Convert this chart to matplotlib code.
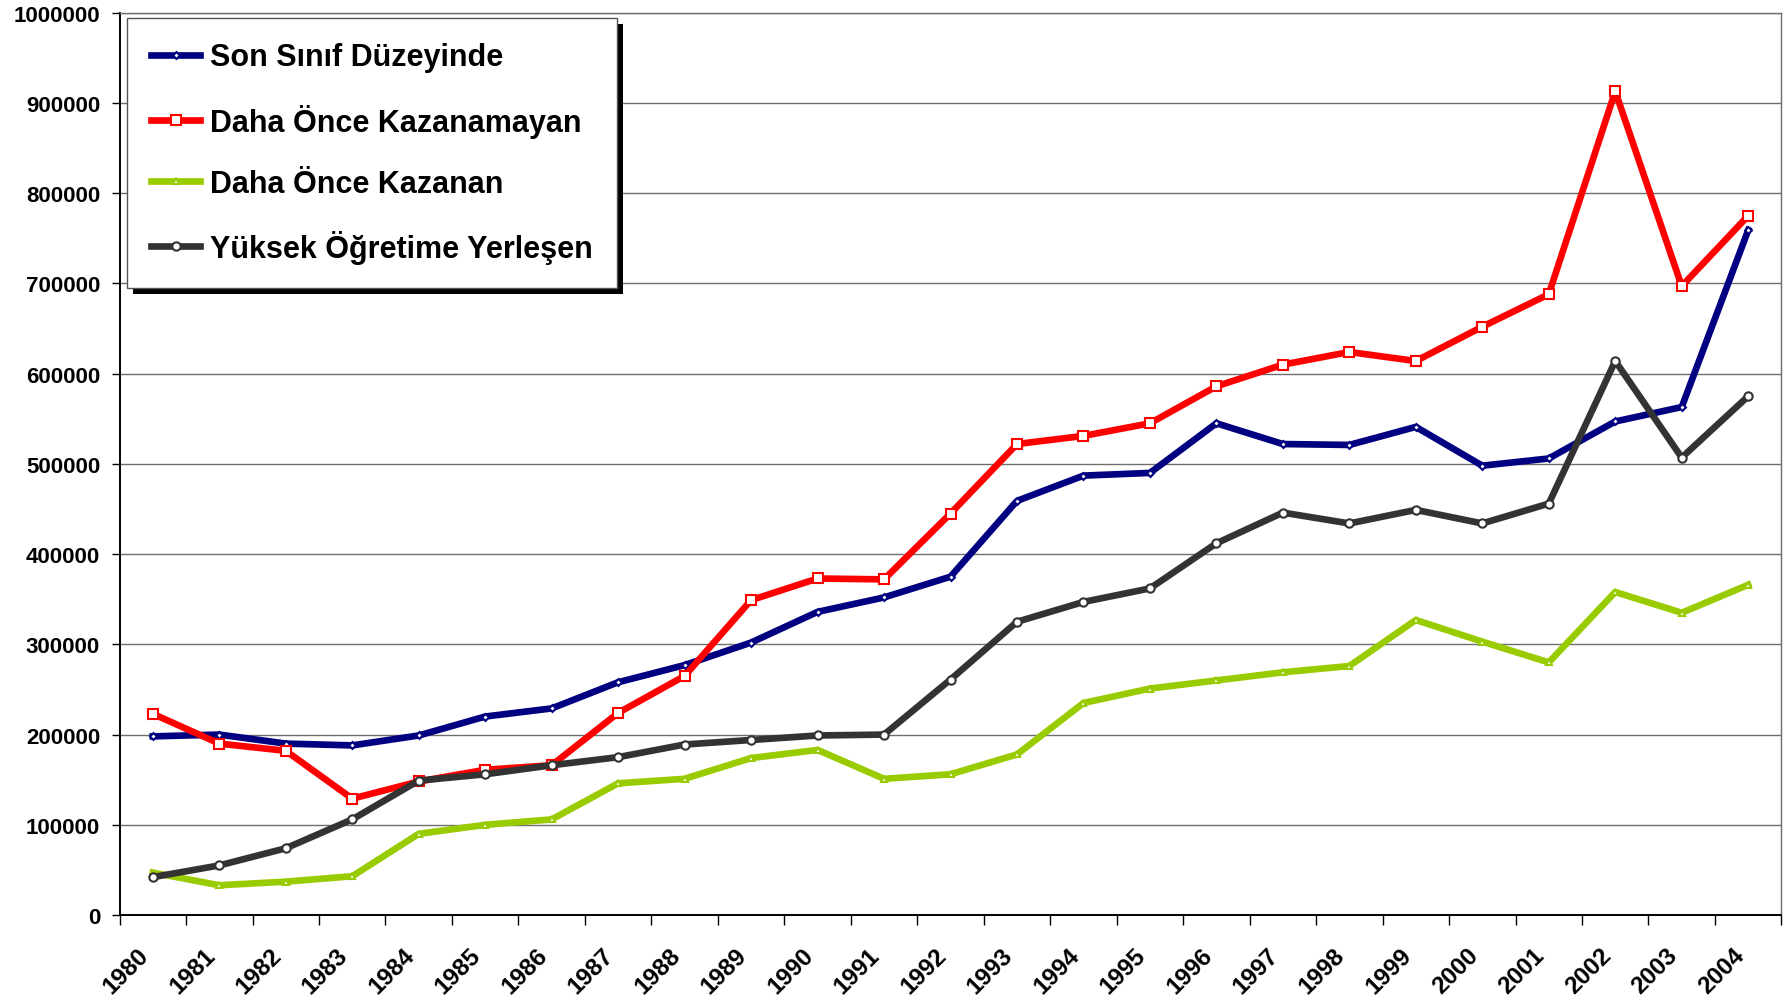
import numpy as np
import matplotlib
matplotlib.use('Agg')
import matplotlib.pyplot as plt
import matplotlib.transforms as mtransforms
from matplotlib.patches import Rectangle

plt.rcParams['font.family'] = ['Liberation Sans', 'DejaVu Sans']
plt.rcParams['font.weight'] = 'bold'

years = [str(y) for y in range(1980, 2005)]

son_sinif = [198000, 200000, 190000, 188000, 199000, 220000, 229000, 258000, 277000, 302000,
             336000, 352000, 375000, 459000, 487000, 490000, 545000, 522000, 521000, 541000,
             498000, 506000, 547000, 563000, 759000]
kazanamayan = [223000, 190000, 182000, 129000, 148000, 161000, 166000, 224000, 265000, 349000,
               373000, 372000, 445000, 522000, 531000, 545000, 586000, 610000, 624000, 614000,
               652000, 688000, 913000, 697000, 775000]
kazanan = [47000, 33000, 37000, 43000, 90000, 100000, 106000, 146000, 151000, 174000,
           183000, 151000, 156000, 178000, 235000, 251000, 260000, 269000, 276000, 327000,
           303000, 280000, 358000, 335000, 366000]
yerlesen = [42000, 55000, 74000, 106000, 149000, 156000, 166000, 175000, 189000, 194000,
            199000, 200000, 261000, 325000, 347000, 362000, 412000, 446000, 434000, 449000,
            434000, 456000, 614000, 507000, 575000]

series = [
    ('Son Sınıf Düzeyinde', son_sinif, '#000080', 'D', 3.5),
    ('Daha Önce Kazanamayan', kazanamayan, '#FF0000', 's', 6.5),
    ('Daha Önce Kazanan', kazanan, '#99CC00', '^', 4.0),
    ('Yüksek Öğretime Yerleşen', yerlesen, '#333333', 'o', 6.0),
]

fig = plt.figure(figsize=(17.85, 10.03), dpi=100)
ax = fig.add_axes([0.067, 0.0867, 0.931, 0.8996])

x = np.arange(len(years))
for name, vals, col, mk, ms in series:
    ax.plot(x, vals, color=col, lw=4.8, marker=mk, markersize=ms,
            markerfacecolor='white', markeredgecolor=col, markeredgewidth=1.5,
            label=name, zorder=3)

ax.set_ylim(0, 1000000)
ax.set_xlim(-0.5, len(years) - 0.5)
ax.set_yticks(np.arange(0, 1000001, 100000))
ax.set_yticklabels([str(v) for v in range(0, 1000001, 100000)], fontsize=16, fontweight='bold')
ax.yaxis.grid(True, color='#6e6e6e', lw=1.0)
ax.set_axisbelow(True)
ax.tick_params(axis='y', length=6, width=1, direction='out', pad=8)

# labels at category centres, ticks at category boundaries
ax.set_xticks(x)
ax.set_xticklabels(years, rotation=45, ha='right', va='top', rotation_mode='anchor',
                   fontsize=17.5, fontweight='bold')
ax.tick_params(axis='x', which='major', length=0, pad=20)
shift = mtransforms.ScaledTranslation(-16 / 100, 0, fig.dpi_scale_trans)
for lab in ax.get_xticklabels():
    lab.set_transform(lab.get_transform() + shift)
ax.set_xticks(np.arange(-0.5, len(years), 1.0), minor=True)
ax.tick_params(axis='x', which='minor', length=7, width=1, direction='out')

for s in ['left', 'bottom']:
    ax.spines[s].set_color('black')
    ax.spines[s].set_linewidth(1.4)
for s in ['right', 'top']:
    ax.spines[s].set_color('#6e6e6e')
    ax.spines[s].set_linewidth(1.0)

leg = ax.legend(loc='upper left', bbox_to_anchor=(127 / 1785, 1 - 19 / 1003),
                bbox_transform=fig.transFigure, borderaxespad=0,
                prop={'size': 22, 'weight': 'bold'}, frameon=True, fancybox=False,
                edgecolor='#555555', handlelength=1.6, handletextpad=0.3,
                labelspacing=1.02, borderpad=0.8, framealpha=1)
leg.get_frame().set_linewidth(1.0)
leg.set_zorder(6)

# hard black drop shadow like the original
fig.canvas.draw()
bb = leg.get_window_extent().transformed(fig.transFigure.inverted())
dx, dy = 6 / 1785, 6 / 1003
shadow = Rectangle((bb.x0 + dx, bb.y0 - dy), bb.width, bb.height, transform=fig.transFigure,
                   facecolor='black', edgecolor='none', zorder=5.5, clip_on=False)
ax.add_patch(shadow)

fig.savefig('out.png', dpi=100)
